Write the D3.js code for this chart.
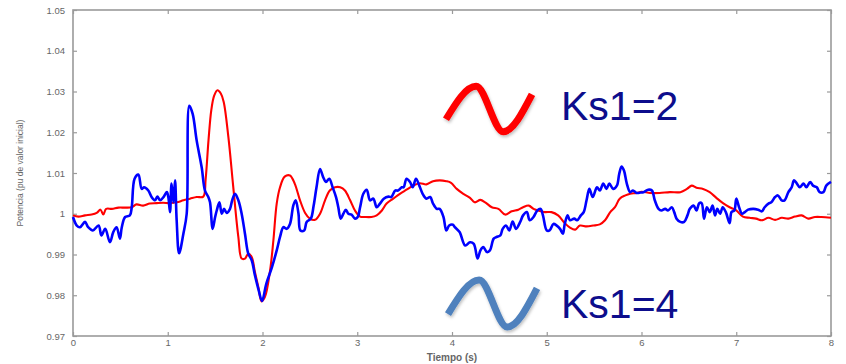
<!DOCTYPE html>
<html>
<head>
<meta charset="utf-8">
<script src="https://cdn.jsdelivr.net/npm/d3@7"></script>
<style>
  html, body { margin: 0; padding: 0; background: #fff; }
  svg { display: block; }
</style>
</head>
<body>
<svg id="chart" width="846" height="364"></svg>
<script>
// Power response, per-unit of initial value, for two stabilizer gains
const blueT = [0,0.04,0.074,0.127,0.16,0.21,0.27,0.30,0.34,0.39,0.425,0.46,0.495,0.515,0.55,0.60,0.62,0.65,0.69,0.725,0.75,0.795,0.83,0.865,0.89,0.92,0.955,0.99,1.006,1.024,1.04,1.06,1.077,1.094,1.12,1.165,1.2,1.228,1.263,1.305,1.358,1.393,1.428,1.446,1.474,1.50,1.517,1.545,1.57,1.594,1.622,1.657,1.68,1.71,1.745,1.78,1.815,1.85,1.886,1.92,1.96,1.995,2.04,2.10,2.15,2.185,2.22,2.255,2.29,2.325,2.35,2.38,2.40,2.44,2.466,2.51,2.54,2.57,2.607,2.64,2.67,2.705,2.74,2.776,2.80,2.825,2.853,2.88,2.906,2.94,2.976,3.005,3.03,3.064,3.10,3.135,3.17,3.205,3.24,3.28,3.33,3.36,3.40,3.43,3.47,3.49,3.52,3.557,3.585,3.62,3.655,3.69,3.73,3.77,3.80,3.84,3.87,3.91,3.94,3.97,4.01,4.03,4.08,4.14,4.19,4.23,4.27,4.30,4.33,4.37,4.40,4.44,4.47,4.51,4.535,4.57,4.605,4.64,4.675,4.72,4.75,4.79,4.82,4.86,4.90,4.935,4.96,5.0,5.03,5.07,5.105,5.14,5.17,5.19,5.22,5.245,5.29,5.32,5.36,5.39,5.42,5.45,5.485,5.53,5.56,5.597,5.63,5.66,5.70,5.74,5.765,5.79,5.815,5.845,5.88,5.91,5.95,5.99,6.02,6.07,6.11,6.14,6.18,6.21,6.25,6.28,6.32,6.345,6.37,6.41,6.45,6.485,6.51,6.55,6.58,6.61,6.635,6.66,6.69,6.72,6.75,6.776,6.80,6.83,6.857,6.89,6.93,6.95,6.98,7.0,7.03,7.06,7.09,7.125,7.18,7.23,7.27,7.30,7.34,7.37,7.41,7.44,7.48,7.51,7.55,7.585,7.61,7.64,7.67,7.71,7.74,7.78,7.81,7.85,7.88,7.92,7.95,8.0];
const blueV = [0.9992,0.9971,0.9967,0.998,0.9967,0.9959,0.9971,0.9947,0.9963,0.993,0.9955,0.9967,0.9939,0.9967,0.9992,0.9996,1.0016,1.0086,1.0096,1.0061,1.0065,1.0057,1.0041,1.0033,1.0042,1.0033,1.0041,1.0053,1.0041,1.0004,1.0074,1.0028,1.0082,0.9984,0.9903,0.9951,1.0,1.0265,1.0245,1.018,1.0114,1.0057,1.0041,1.0028,0.9963,0.9992,1.0008,1.0028,1.0,1.0012,1.0002,1.0012,1.0033,1.0049,1.0033,1.0,0.9951,0.9902,0.9886,0.9849,0.9812,0.9786,0.9828,0.9869,0.991,0.9943,0.9967,0.9963,0.9975,1.002,1.0033,1.0,0.9959,0.9959,0.998,0.9988,1.002,1.0065,1.011,1.009,1.0078,1.0086,1.0065,1.0041,1.0016,0.9988,1.0,1.001,1.0,0.9998,0.9988,0.9992,1.0016,1.0049,1.0059,1.0033,1.0037,1.0016,1.0025,1.0037,1.0042,1.0041,1.0057,1.0057,1.0065,1.0065,1.0086,1.0078,1.0065,1.0086,1.0069,1.0049,1.0037,1.0041,1.0025,1.0012,1.0012,0.9992,0.9959,0.9971,0.9973,0.9967,0.9955,0.9922,0.993,0.9926,0.989,0.991,0.9918,0.9906,0.991,0.9939,0.9943,0.9947,0.9963,0.9971,0.9959,0.9981,0.9963,0.998,0.9996,1.0004,0.9984,0.9992,1.0008,1.0012,0.9996,0.9959,0.9959,0.9975,0.9971,0.9963,0.9951,0.9975,0.9996,0.9984,0.9988,0.9984,0.9996,1.0004,1.0033,1.0061,1.0041,1.0065,1.0057,1.0074,1.0061,1.0074,1.0061,1.0069,1.0098,1.0116,1.0106,1.0074,1.0053,1.0057,1.0051,1.0052,1.0053,1.0059,1.0057,1.0033,1.0012,1.0008,1.0012,1.0008,1.0016,1.0004,0.9988,0.998,0.998,0.9996,1.0012,1.002,1.0008,1.0026,1.0026,0.9988,1.0016,1.0004,1.002,0.9996,1.0012,1.0,1.0016,1.0004,0.9977,1.0004,1.0008,1.0037,1.0016,1.0,1.0004,1.001,1.0012,1.001,1.0006,1.0016,1.0025,1.0028,1.0041,1.0045,1.0033,1.0033,1.0053,1.0065,1.0082,1.0074,1.0065,1.0074,1.0065,1.0078,1.0069,1.0065,1.0053,1.0053,1.0069,1.0078];

const redT = [0,0.056,0.127,0.197,0.25,0.29,0.32,0.35,0.41,0.48,0.55,0.62,0.67,0.74,0.81,0.88,0.95,1.02,1.095,1.165,1.235,1.305,1.375,1.40,1.43,1.46,1.49,1.525,1.56,1.59,1.64,1.69,1.745,1.78,1.815,1.85,1.886,1.92,1.956,1.99,2.026,2.08,2.115,2.15,2.185,2.234,2.29,2.34,2.396,2.45,2.50,2.554,2.607,2.66,2.71,2.765,2.82,2.87,2.925,2.976,3.03,3.08,3.15,3.205,3.26,3.31,3.38,3.45,3.52,3.59,3.66,3.73,3.80,3.87,3.94,3.99,4.05,4.12,4.19,4.24,4.30,4.35,4.42,4.49,4.56,4.63,4.70,4.75,4.81,4.86,4.91,4.98,5.05,5.12,5.19,5.245,5.30,5.35,5.42,5.49,5.56,5.615,5.67,5.72,5.77,5.83,5.88,5.95,6.0,6.09,6.19,6.30,6.41,6.48,6.53,6.58,6.65,6.72,6.79,6.86,6.93,7.0,7.07,7.14,7.21,7.27,7.34,7.41,7.48,7.55,7.62,7.69,7.76,7.83,7.90,8.0];
const redV = [0.9996,0.9993,0.9996,0.9998,1.0002,1.001,0.9998,1.0012,1.0012,1.0015,1.0015,1.0016,1.0023,1.002,1.0025,1.0026,1.0027,1.0026,1.0028,1.0033,1.0037,1.0041,1.0042,1.0085,1.018,1.0255,1.029,1.0303,1.0295,1.0275,1.0188,1.0069,0.9943,0.989,0.989,0.9902,0.9894,0.9857,0.982,0.9785,0.9796,0.9861,0.9935,1.0025,1.0065,1.0091,1.0094,1.0074,1.0033,1.0002,0.9988,0.9985,1.0,1.0033,1.0057,1.0065,1.0065,1.0057,1.0033,1.0008,0.9993,0.9992,0.9992,0.9996,1.0008,1.0025,1.0037,1.0049,1.0059,1.0069,1.0075,1.0072,1.008,1.0082,1.008,1.0076,1.0061,1.0049,1.0039,1.0028,1.0034,1.0028,1.0016,1.0012,0.9998,1.0006,1.001,1.0016,1.002,1.0012,1.0008,1.0004,1.0004,0.9996,0.9977,0.9966,0.9961,0.9971,0.9969,0.9971,0.9974,0.9984,1.0004,1.0016,1.0037,1.0045,1.0049,1.0051,1.0054,1.0051,1.0051,1.0053,1.0053,1.0061,1.0069,1.0064,1.0061,1.0053,1.0039,1.0026,1.0016,1.0008,0.9993,0.999,0.9988,0.9984,0.999,0.9985,0.999,0.9988,0.9993,0.9996,0.9988,0.9992,0.9992,0.999];

const xTicks = [0,1,2,3,4,5,6,7,8];
const xTickLabels = ["0","1","2","3","4","5","6","7","8"];
const yTicks = [0.97,0.98,0.99,1.00,1.01,1.02,1.03,1.04,1.05];
const yTickLabels = ["0.97","0.98","0.99","1","1.01","1.02","1.03","1.04","1.05"];

const legendLabels = ["Ks1=2","Ks1=4"];
const legendColors = ["#ff0000","#4f81bd"];

const xLabel = "Tiempo (s)";
const yLabel = "Potencia (pu de valor inicial)";

const svg = d3.select("#chart");
const L = 73, R = 831, T = 10, B = 336;

const x = d3.scaleLinear().domain([0, 8]).range([L, R]);
const y = d3.scaleLinear().domain([0.97, 1.05]).range([B, T]);

const axisColor = "#9a9a9a";
const labelColor = "#666";
const tickFont = "'Liberation Sans', Arial, sans-serif";

// frame-style axes with inward ticks on all four sides
function styleAxis(g) {
  g.select(".domain").remove();
  g.selectAll(".tick line").attr("stroke", axisColor).attr("stroke-width", 1.2);
  g.selectAll(".tick text").attr("fill", labelColor)
    .style("font-family", tickFont).style("font-size", "9.5px");
}

svg.append("g").attr("transform", `translate(0,${B})`)
  .call(d3.axisBottom(x).tickValues(xTicks).tickSize(-4).tickPadding(3)
    .tickFormat((d, i) => xTickLabels[i]))
  .call(styleAxis);
svg.append("g").attr("transform", `translate(0,${T})`)
  .call(d3.axisTop(x).tickValues(xTicks).tickSize(-4).tickFormat(""))
  .call(styleAxis);
svg.append("g").attr("transform", `translate(${L},0)`)
  .call(d3.axisLeft(y).tickValues(yTicks).tickSize(-4).tickPadding(8)
    .tickFormat((d, i) => yTickLabels[i]))
  .call(styleAxis);
svg.append("g").attr("transform", `translate(${R},0)`)
  .call(d3.axisRight(y).tickValues(yTicks).tickSize(-4).tickFormat(""))
  .call(styleAxis);

svg.append("rect")
  .attr("x", L).attr("y", T).attr("width", R - L).attr("height", B - T)
  .attr("fill", "none").attr("stroke", axisColor).attr("stroke-width", 1.6);

// axis titles
svg.append("text")
  .attr("x", (L + R) / 2).attr("y", 361)
  .attr("text-anchor", "middle")
  .attr("fill", labelColor)
  .style("font-family", tickFont).style("font-size", "10px").style("font-weight", "bold")
  .text(xLabel);

svg.append("text")
  .attr("transform", `translate(23,${(T + B) / 2}) rotate(-90)`)
  .attr("text-anchor", "middle")
  .attr("fill", labelColor)
  .style("font-family", tickFont).style("font-size", "8.5px")
  .text(yLabel);

// series
const line = d3.line()
  .x(d => x(d[0]))
  .y(d => y(d[1]))
  .curve(d3.curveCatmullRom.alpha(0.5));

const redData = d3.zip(redT, redV);
const blueData = d3.zip(blueT, blueV);

const plot = svg.append("g");
plot.append("path").datum(redData)
  .attr("d", line).attr("fill", "none")
  .attr("stroke", "#ff0000").attr("stroke-width", 2.1)
  .attr("stroke-linejoin", "round");
plot.append("path").datum(blueData)
  .attr("d", line).attr("fill", "none")
  .attr("stroke", "#0000ff").attr("stroke-width", 2.6)
  .attr("stroke-linejoin", "round");

// legend glyphs: a single wave stroke each, with a soft shadow
const defs = svg.append("defs");
const f = defs.append("filter").attr("id", "softShadow")
  .attr("x", "-20%").attr("y", "-20%").attr("width", "140%").attr("height", "150%");
f.append("feDropShadow").attr("dx", 1).attr("dy", 2).attr("stdDeviation", 1.5)
  .attr("flood-color", "#000").attr("flood-opacity", 0.25);

// glyph outline in unit space: start, crest, trough, end
const glyphShape = [[0, 0.45], [0.35, -1], [0.665, 1], [1, -0.64]];
const wave = d3.line().curve(d3.curveMonotoneX);
const legendY = [109, 303.5];
const legendX0 = [446, 448];
const legendW = [86, 89];
const legendAmp = [22.7, 23.5];

legendLabels.forEach((lab, k) => {
  const pts = glyphShape.map(([u, v]) => [legendX0[k] + legendW[k] * u,
                                          legendY[k] + legendAmp[k] * v]);
  svg.append("path")
    .attr("d", wave(pts))
    .attr("fill", "none")
    .attr("stroke", legendColors[k])
    .attr("stroke-width", 7)
    .attr("filter", "url(#softShadow)");
  svg.append("text")
    .attr("x", 561).attr("y", legendY[k] + 11 + (k === 1 ? 3 : 0))
    .attr("fill", "#0d0d8c")
    .style("font-family", "'Liberation Sans', Arial, sans-serif")
    .style("font-size", "41px")
    .text(lab);
});
</script>
</body>
</html>
